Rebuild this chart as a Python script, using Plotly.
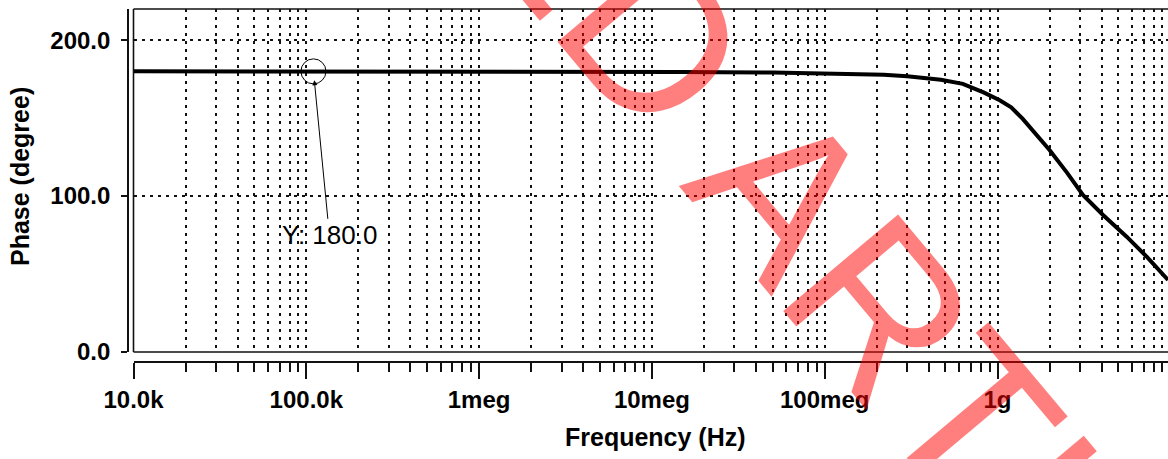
import math
import plotly.graph_objects as go

# Phase response of the simulated circuit
freq_hz = [1.0e4, 1.0e5, 1.0e6, 1.0e7, 1.45e7, 5.0e7, 1.1e8, 2.2e8, 3.0e8,
           4.7e8, 6.3e8, 8.3e8, 1.03e9, 1.20e9, 1.40e9, 2.00e9, 2.53e9,
           3.12e9, 4.08e9, 5.61e9, 7.32e9, 9.70e9]
phase_deg = [180.0, 180.0, 180.0, 180.0, 179.6, 179.3, 178.8, 177.9, 176.8,
             174.6, 172.0, 166.5, 161.5, 157.0, 149.5, 129.6, 114.9,
             100.7, 87.9, 73.8, 61.0, 46.2]

# Cursor readout
cursor_freq = 1.1e5
cursor_phase = 180.0
cursor_label = "Y: 180.0"

# Axis ticks
x_major = [1e4, 1e5, 1e6, 1e7, 1e8, 1e9]
x_major_text = ["10.0k", "100.0k", "1meg", "10meg", "100meg", "1g"]
x_minor = [m * d for d in [1e4, 1e5, 1e6, 1e7, 1e8, 1e9] for m in range(2, 10)]
y_ticks = [0, 100, 200]

watermark = "ED ARTI"

W, H = 1168, 459
ML, MR, MT, MB = 128, 0, 9, 97
PW, PH = W - ML - MR, H - MT - MB


def px_x(px):
    return (px - ML) / PW


def px_y(py):
    return (H - MB - py) / PH


GRID_DASH = "3px,5px"
INK = "#111111"

fig = go.Figure()
fig.add_trace(go.Scatter(
    x=freq_hz, y=phase_deg, mode="lines",
    line=dict(color="black", width=4), hoverinfo="skip", showlegend=False,
))
fig.add_trace(go.Scatter(
    x=[cursor_freq], y=[cursor_phase], mode="markers",
    marker=dict(symbol="circle-open", size=25, color="black", line=dict(width=1)),
    hoverinfo="skip", showlegend=False,
))

fig.update_layout(
    width=W, height=H,
    margin=dict(l=ML, r=MR, t=MT, b=MB, pad=0),
    paper_bgcolor="white", plot_bgcolor="white",
    font=dict(family="Liberation Sans, Arial, sans-serif", color="black"),
    xaxis=dict(
        type="log", range=[4, 9.9867],
        domain=[px_x(133.5), 1], anchor="free", position=0,
        tickvals=x_major, ticktext=x_major_text,
        ticks="outside", ticklen=16, tickwidth=1.5, tickcolor=INK,
        tickfont=dict(size=24, weight="bold"),
        showline=True, linecolor=INK, linewidth=1.6,
        showgrid=True, gridcolor=INK, gridwidth=1.8, griddash=GRID_DASH,
        minor=dict(tickvals=x_minor, ticks="outside", ticklen=9, tickwidth=1.5,
                   tickcolor=INK, showgrid=True, gridcolor=INK, gridwidth=1.8,
                   griddash=GRID_DASH),
        zeroline=False,
    ),
    yaxis=dict(
        range=[0, 220],
        domain=[px_y(352), 1], anchor="free", position=0,
        tickvals=y_ticks, tickformat=".1f",
        ticks="outside", ticklen=6, tickwidth=1.5, tickcolor=INK,
        tickfont=dict(size=24, weight="bold"), ticklabelstandoff=6,
        showline=True, linecolor=INK, linewidth=1.6,
        showgrid=True, gridcolor=INK, gridwidth=1.8, griddash=GRID_DASH,
        zeroline=False,
    ),
)

# Plot frame (top, left and bottom edges)
frame = dict(type="line", xref="x domain", yref="y domain",
             line=dict(color=INK, width=1.6), layer="above")
fig.add_shape(x0=0, x1=1, y0=1, y1=1, **frame)
fig.add_shape(x0=0, x1=0, y0=0, y1=1, **frame)
fig.add_shape(x0=0, x1=1, y0=0, y1=0, **frame)

# Axis titles
fig.add_annotation(text="Frequency (Hz)", xref="paper", yref="paper",
                   x=px_x(655), y=px_y(437), showarrow=False,
                   xanchor="center", yanchor="middle",
                   font=dict(size=25, weight="bold"))
fig.add_annotation(text="Phase (degree)", xref="paper", yref="paper",
                   x=px_x(20), y=px_y(177), showarrow=False, textangle=-90,
                   xanchor="center", yanchor="middle",
                   font=dict(size=25, weight="bold"))

# Cursor label with arrow
fig.add_annotation(text=cursor_label, x=math.log10(cursor_freq), y=cursor_phase,
                   xref="x", yref="y", showarrow=True, ax=16, ay=164,
                   arrowhead=2, arrowsize=1, arrowwidth=1, arrowcolor="black",
                   standoff=9, font=dict(size=26))

# Watermark
fig.add_annotation(text=watermark, xref="paper", yref="paper",
                   x=px_x(782), y=px_y(191), showarrow=False, textangle=50,
                   xanchor="center", yanchor="middle",
                   font=dict(family="Liberation Sans, Arial, sans-serif",
                             size=218, color="rgba(255,0,0,0.5)"))

fig.write_html("out.html")
